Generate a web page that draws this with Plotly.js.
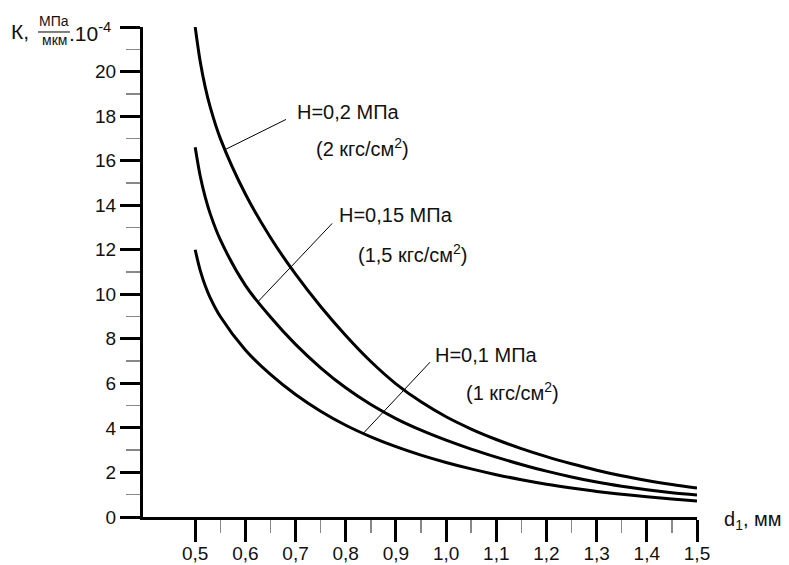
<!DOCTYPE html>
<html><head><meta charset="utf-8">
<script src="https://cdn.plot.ly/plotly-3.0.1.min.js"></script>
<style>html,body{margin:0;padding:0;background:#fff}</style>
</head><body><div id="chart" style="width:789px;height:565px"></div>
<script>
// Data
const d1 = [0.5, 0.51, 0.52, 0.53, 0.55, 0.6, 0.65, 0.7, 0.75, 0.8, 0.85, 0.9, 0.95, 1.0, 1.05, 1.1, 1.15, 1.2, 1.25, 1.3, 1.35, 1.4, 1.45, 1.5];
const kH02  = [22.0, 20.45, 19.3, 18.4, 17.0, 14.5, 12.55, 10.9, 9.45, 8.15, 6.98, 5.98, 5.17, 4.5, 3.95, 3.48, 3.07, 2.71, 2.39, 2.1, 1.85, 1.64, 1.46, 1.30];
const kH015 = [16.6, 15.31, 14.36, 13.61, 12.45, 10.4, 8.98, 7.75, 6.7, 5.8, 5.05, 4.42, 3.9, 3.45, 3.05, 2.69, 2.36, 2.06, 1.8, 1.57, 1.38, 1.22, 1.09, 0.99];
const kH01  = [12.0, 11.07, 10.38, 9.84, 9.0, 7.5, 6.4, 5.5, 4.75, 4.12, 3.6, 3.16, 2.78, 2.45, 2.16, 1.9, 1.67, 1.47, 1.3, 1.15, 1.02, 0.91, 0.81, 0.72];

const xTickVals = [0.5, 0.6, 0.7, 0.8, 0.9, 1.0, 1.1, 1.2, 1.3, 1.4, 1.5];
const xTickText = ["0,5","0,6","0,7","0,8","0,9","1,0","1,1","1,2","1,3","1,4","1,5"];
const xMinorVals = [0.55, 0.65, 0.75, 0.85, 0.95, 1.05, 1.15, 1.25, 1.35, 1.45];
const yTickVals = [0, 2, 4, 6, 8, 10, 12, 14, 16, 18, 20, 22];
const yTickText = ["0","2","4","6","8","10","12","14","16","18","20",""];

const labelMain = ["H=0,2 МПа", "H=0,15 МПа", "H=0,1 МПа"];
const labelSub = ["(2 кгс/см<sup>2</sup>)", "(1,5 кгс/см<sup>2</sup>)", "(1 кгс/см<sup>2</sup>)"];

const FONT = "Liberation Sans, Arial, sans-serif";
const line = {color: "#000", width: 3, shape: "spline", smoothing: 1};

const traces = [kH02, kH015, kH01].map(v => ({
  x: d1, y: v, type: "scatter", mode: "lines", line: line, hoverinfo: "skip", cliponaxis: false
}));

function interp(xs, ys, x) {
  for (let i = 0; i < xs.length - 1; i++) {
    if (x >= xs[i] && x <= xs[i+1]) {
      const t = (x - xs[i]) / (xs[i+1] - xs[i]);
      return ys[i] + t * (ys[i+1] - ys[i]);
    }
  }
  return ys[ys.length-1];
}

// leader lines: touch point on curve (x), text end (x,y)
const leaders = [
  {series: kH02, x0: 0.560, x1: 0.681, y1: 17.85},
  {series: kH015, x0: 0.6255, x1: 0.773, y1: 13.18},
  {series: kH01, x0: 0.835, x1: 0.968, y1: 6.95}
];
const shapes = leaders.map(l => ({
  type: "line", xref: "x", yref: "y",
  x0: l.x0, y0: interp(d1, l.series, l.x0), x1: l.x1, y1: l.y1,
  line: {color: "#000", width: 1}
}));
// fraction bar of the unit
shapes.push({type: "line", xref: "paper", yref: "paper",
  x0: -0.1895, x1: -0.1318, y0: 0.9898, y1: 0.9898, line: {color: "#000", width: 1}});

const labelPos = [
  {x: 0.699, y: 18.2, sx: 0.736, sy: 16.6},
  {x: 0.783, y: 13.54, sx: 0.82, sy: 11.85},
  {x: 0.974, y: 7.26, sx: 1.035, sy: 5.65}
];
const annotations = [];
labelPos.forEach((p, i) => {
  annotations.push({x: p.x, y: p.y, xref: "x", yref: "y", text: labelMain[i], showarrow: false,
    xanchor: "left", yanchor: "middle", font: {family: FONT, size: 20, color: "#111"}});
  annotations.push({x: p.sx, y: p.sy, xref: "x", yref: "y", text: labelSub[i], showarrow: false,
    xanchor: "left", yanchor: "middle", font: {family: FONT, size: 20, color: "#111"}});
});
// axis titles
annotations.push({x: 1.045, y: -0.008, xref: "paper", yref: "paper", text: "d<sub>1</sub>, мм",
  showarrow: false, xanchor: "left", yanchor: "middle", font: {family: FONT, size: 20, color: "#111"}});
annotations.push({x: -0.2420, y: 0.9898, xref: "paper", yref: "paper", text: "К,",
  showarrow: false, xanchor: "left", yanchor: "middle", font: {family: FONT, size: 21, color: "#111"}});
annotations.push({x: -0.1606, y: 1.0122, xref: "paper", yref: "paper", text: "МПа",
  showarrow: false, xanchor: "center", yanchor: "middle", font: {family: FONT, size: 14, color: "#111"}});
annotations.push({x: -0.1606, y: 0.9735, xref: "paper", yref: "paper", text: "мкм",
  showarrow: false, xanchor: "center", yanchor: "middle", font: {family: FONT, size: 14, color: "#111"}});
annotations.push({x: -0.138, y: 0.9898, xref: "paper", yref: "paper", text: ".10<sup>-4</sup>",
  showarrow: false, xanchor: "left", yanchor: "middle", font: {family: FONT, size: 21, color: "#111"}});

const layout = {
  width: 789, height: 565,
  margin: {l: 143, r: 92, t: 27, b: 48},
  paper_bgcolor: "#fff", plot_bgcolor: "#fff",
  showlegend: false,
  separators: ", ",
  font: {family: FONT, size: 19, color: "#111"},
  xaxis: {
    range: [0.396, 1.5], showgrid: false, zeroline: false,
    showline: true, linecolor: "#000", linewidth: 3,
    tickmode: "array", tickvals: xTickVals, ticktext: xTickText,
    ticks: "outside", ticklen: 22, tickwidth: 3, tickcolor: "#000",
    ticklabelstandoff: -5,
    tickfont: {family: FONT, size: 19, color: "#111"},
    minor: {tickmode: "array", tickvals: xMinorVals, ticks: "outside", ticklen: 13, tickwidth: 1.5, tickcolor: "#888", showgrid: false}
  },
  yaxis: {
    range: [0, 22], showgrid: false, zeroline: false,
    showline: true, linecolor: "#000", linewidth: 3,
    tickmode: "array", tickvals: yTickVals, ticktext: yTickText,
    ticks: "outside", ticklen: 20, tickwidth: 3, tickcolor: "#000",
    tickfont: {family: FONT, size: 19, color: "#111"},
    minor: {tick0: 0, dtick: 1, ticks: "outside", ticklen: 14, tickwidth: 1.5, tickcolor: "#888", showgrid: false}
  },
  shapes: shapes,
  annotations: annotations
};

Plotly.newPlot("chart", traces, layout, {displayModeBar: false, staticPlot: true});
</script>
</body></html>
